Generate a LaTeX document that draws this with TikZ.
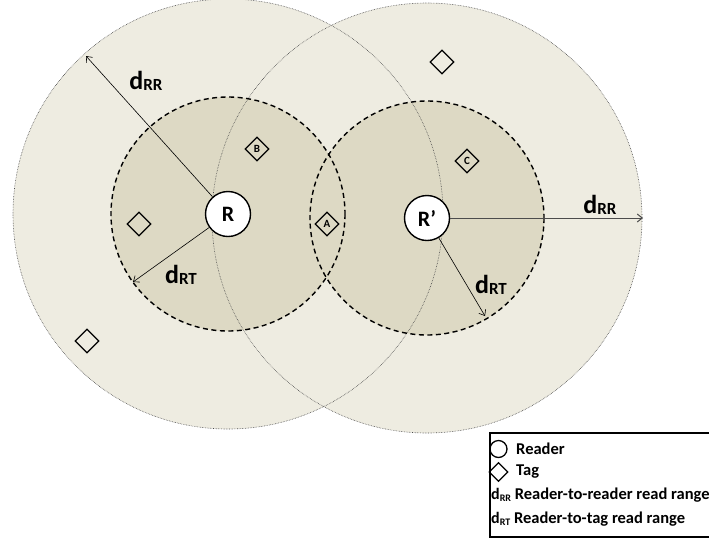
\documentclass[tikz,border=0pt]{standalone}
\usepackage{fontspec}
\setmainfont{Carlito}
\usetikzlibrary{arrows.meta,shapes.geometric}
\definecolor{outerfill}{HTML}{EEECE1}
\definecolor{innerfill}{HTML}{DDD9C4}
\newcommand{\dsub}[3]{{\fontsize{#1}{#1}\selectfont d}\raisebox{-0.3ex}{\fontsize{#2}{#2}\selectfont #3}}
\begin{document}
\begin{tikzpicture}[x=1pt,y=-1pt,
  reader/.style={circle, draw, fill=white, line width=1.4pt, minimum size=45pt, inner sep=0pt, font=\fontsize{22}{22}\selectfont\bfseries},
  tag/.style={diamond, draw, line width=1.3pt, minimum size=24pt, inner sep=0pt, font=\fontsize{11}{11}\selectfont\bfseries},
  bigring/.style={draw=black!70, densely dotted, line width=0.6pt},
  dashring/.style={draw=black, dash pattern=on 5pt off 3.5pt, line width=1.4pt},
  arr/.style={-{Straight Barb[length=5pt,width=8pt]}, line width=0.6pt},
  lbl/.style={font=\bfseries, inner sep=0pt},
  leg/.style={anchor=west, inner sep=0pt, font=\fontsize{16.5}{17}\selectfont\bfseries}
]
\useasboundingbox (0,0) rectangle (709,539);
\clip (0,0) rectangle (709,539);
\fill[white] (0,0) rectangle (709,539);
% fills
\fill[outerfill] (228,214) circle (215);
\fill[outerfill] (427,218) circle (215);
\fill[innerfill] (228,214) circle (117);
\fill[innerfill] (427,218) circle (117);
% outlines
\draw[bigring] (228,214) circle (215);
\draw[bigring] (427,218) circle (215);
\draw[dashring] (228,214) circle (117);
\draw[dashring] (427,218) circle (117);
% tags
\node[tag] (tB) at (257,149) {B};
\node[tag] (tA) at (327,224) {A};
\node[tag] (tC) at (467,161) {C};
\node[tag] (t1) at (139,224) {};
\node[tag] (t2) at (87,341) {};
\node[tag] (t3) at (442,62) {};
% readers
\node[reader] (R) at (228,214) {R};
\node[reader] (R2) at (427,218) {R’};
% arrows
\coordinate (lRR) at (86,56);
\coordinate (lRT) at (133,282);
\coordinate (rRR) at (643,218);
\coordinate (rRT) at (485,316);
\draw[arr] (R) -- (lRR);
\draw[arr] (R) -- (lRT);
\draw[arr, line width=1pt, draw=black!70] (R2) -- (rRR);
\draw[arr] (R2) -- (rRT);
\node[lbl] (LlRR) at (146,81) {\dsub{26}{17}{RR}};
\node[lbl] (LlRT) at (181,275) {\dsub{26}{17}{RT}};
\node[lbl] (LrRR) at (600,205) {\dsub{26}{17}{RR}};
\node[lbl] (LrRT) at (491,285) {\dsub{26}{17}{RT}};
% legend
\draw[line width=1.4pt] (490,433) rectangle (730,537);
\node[circle, draw, line width=1.3pt, minimum size=17pt, inner sep=0pt] (lgR) at (498.5,449) {};
\node[leg] (lgRt) at (516,449) {Reader};
\node[diamond, draw, line width=1.3pt, minimum size=19pt, inner sep=0pt] (lgT) at (498.5,472) {};
\node[leg] (lgTt) at (516,472) {Tag};
\node[leg] (lgRR) at (491,495) {\dsub{16}{10}{RR} Reader-to-reader read range};
\node[leg] (lgRT) at (491,519) {\dsub{16}{10}{RT} Reader-to-tag read range};
\end{tikzpicture}
\end{document}
